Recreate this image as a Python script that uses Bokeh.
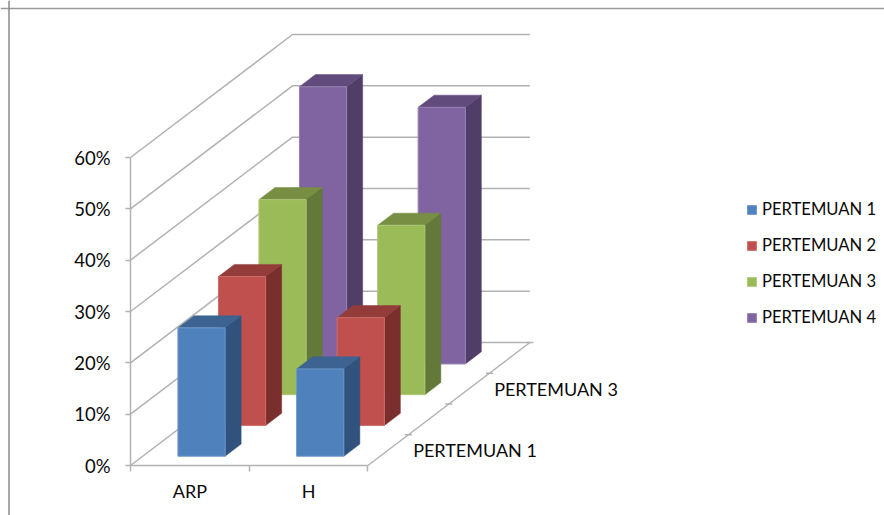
from bokeh.core.properties import value
from bokeh.embed import file_html
from bokeh.models import (FixedTicker, Legend, LegendItem, LinearAxis,
                          Range1d, Span)
from bokeh.plotting import figure
from bokeh.resources import INLINE

# Chart data
categories = ["ARP", "H"]
series_names = ["PERTEMUAN 1", "PERTEMUAN 2", "PERTEMUAN 3", "PERTEMUAN 4"]
pertemuan_1 = [25, 17]
pertemuan_2 = [29, 21]
pertemuan_3 = [38, 33]
pertemuan_4 = [54, 50]
series_values = [pertemuan_1, pertemuan_2, pertemuan_3, pertemuan_4]
percent_ticks = [0, 10, 20, 30, 40, 50, 60]
depth_labels = {0: "PERTEMUAN 1", 2: "PERTEMUAN 3"}

# Face colours per series: front, edge, top, side
front_colors = ["#4F81BD", "#C0504D", "#9BBB59", "#8064A2"]
edge_colors = ["#6C96C8", "#CB6E6B", "#AEC877", "#9680B2"]
top_colors = ["#3C6391", "#943C3A", "#778E43", "#614B7C"]
side_colors = ["#30527C", "#7A2E2D", "#62793A", "#513E68"]

WIDTH, HEIGHT = 884, 515
FONT = "Lato"
GRID = "#B2B2B2"
TEXT = "#0A0A0A"

# Plot scale: one category is 118.7 px wide and one percent is 5.133 px tall.
PX_X, PX_Y = 118.7, 5.133
X0_PX, Y0_PX = 130, 465
DEPTH_X, DEPTH_Y = 162 / PX_X, 123 / PX_Y   # oblique offset of the full floor depth

BAR_W = 47.2 / PX_X
BAR_GAP_X = 35.2 / PX_X
BAR_DEPTH = 0.395   # share of one depth slot taken by a bar
N_DEPTH = len(series_names)


def project(cat, depth, pct):
    """Oblique projection of (category, depth slot, percent) on the plot plane."""
    return cat + depth / N_DEPTH * DEPTH_X, pct + depth / N_DEPTH * DEPTH_Y


p = figure(
    width=WIDTH, height=HEIGHT, output_backend="svg", toolbar_location=None,
    x_range=Range1d(-X0_PX / PX_X, (WIDTH - X0_PX) / PX_X),
    y_range=Range1d((Y0_PX - HEIGHT) / PX_Y, Y0_PX / PX_Y),
    x_axis_type=None, y_axis_type=None, min_border=0,
)
p.outline_line_color = None
p.grid.visible = False
p.background_fill_color = "white"

# Outer chart border (top and left edges)
p.add_layout(Span(location=(Y0_PX - 8) / PX_Y, dimension="width", line_color="#9A9A9A", line_width=1.5))
p.add_layout(Span(location=(8.5 - X0_PX) / PX_X, dimension="height", line_color="#8A8A8A", line_width=1.5))

# Side wall and back wall gridlines
wall_xs, wall_ys = [], []
for t in percent_ticks:
    a = project(0, 0, t)
    b = project(0, N_DEPTH, t)
    c = project(len(categories), N_DEPTH, t)
    wall_xs.append([a[0], b[0], c[0]])
    wall_ys.append([a[1], b[1], c[1]])
p.multi_line(wall_xs, wall_ys, line_color=GRID, line_width=1.5)

# Floor right edge with its depth ticks
edge_a = project(len(categories), 0, 0)
edge_b = project(len(categories), N_DEPTH, 0)
p.line([edge_a[0], edge_b[0]], [edge_a[1], edge_b[1]], line_color=GRID, line_width=1.5)
tick_half = 3.5 / PX_X
tick_xs, tick_ys = [], []
for d in range(1, N_DEPTH + 1):
    tx, ty = project(len(categories), d, 0)
    tick_xs.append([tx - tick_half, tx + tick_half])
    tick_ys.append([ty, ty])
p.multi_line(tick_xs, tick_ys, line_color=GRID, line_width=1.5)

# Bars, painted from the back slot to the front one
bar_front = {}
for s in reversed(range(N_DEPTH)):
    fx, fy, tx, ty, sx, sy = [], [], [], [], [], []
    for c, v in enumerate(series_values[s]):
        d0 = s + (1 - BAR_DEPTH) / 2
        d1 = d0 + BAR_DEPTH
        x0 = c + BAR_GAP_X
        x1 = x0 + BAR_W
        a0, b0 = project(x0, d0, 0)
        a1, _ = project(x1, d0, 0)
        _, t0 = project(x0, d0, v)
        a2, b2 = project(x1, d1, 0)
        a3, _ = project(x0, d1, 0)
        _, t1 = project(x0, d1, v)
        fx.append([a0, a1, a1, a0]); fy.append([b0, b0, t0, t0])
        sx.append([a1, a2, a2, a1]); sy.append([b0, b2, t1, t0])
        tx.append([a0, a1, a2, a3]); ty.append([t0, t0, t1, t1])
    p.patches(sx, sy, fill_color=side_colors[s], line_color=side_colors[s], line_width=0.5)
    p.patches(tx, ty, fill_color=top_colors[s], line_color=top_colors[s], line_width=0.5)
    bar_front[s] = p.patches(fx, fy, fill_color=front_colors[s], line_color=edge_colors[s], line_width=1)

# Value axis on the front left edge
y_axis = LinearAxis(
    fixed_location=0, ticker=FixedTicker(ticks=percent_ticks),
    bounds=(percent_ticks[0], percent_ticks[-1]),
    major_label_overrides={t: f"{t}%" for t in percent_ticks},
    axis_line_color=GRID, axis_line_width=1.5,
    major_tick_line_color=GRID, major_tick_line_width=1.5,
    major_tick_in=0, major_tick_out=5, minor_tick_line_color=None,
    major_label_standoff=15, major_label_text_font=FONT,
    major_label_text_font_size="18.5px", major_label_text_color=TEXT,
)
p.add_layout(y_axis, "left")

# Category axis along the front floor edge: tick marks at slot edges
x_ticks = LinearAxis(
    fixed_location=0, ticker=FixedTicker(ticks=list(range(len(categories) + 1))),
    bounds=(0, len(categories)),
    axis_line_color=GRID, axis_line_width=1.5,
    major_tick_line_color=GRID, major_tick_line_width=1.5,
    major_tick_in=0, major_tick_out=6, minor_tick_line_color=None,
    major_label_text_color=None, major_label_text_font_size="1px",
)
p.add_layout(x_ticks, "below")

# Category names centred under each slot
x_names = LinearAxis(
    fixed_location=0, ticker=FixedTicker(ticks=[c + 0.5 for c in range(len(categories))]),
    major_label_overrides={c + 0.5: n for c, n in enumerate(categories)},
    axis_line_color=None, major_tick_line_color=None, minor_tick_line_color=None,
    major_label_standoff=8, major_label_text_font=FONT,
    major_label_text_font_size="18px", major_label_text_color=TEXT,
)
p.add_layout(x_names, "below")

# Depth axis names beside the floor edge
label_x, label_y, label_text = [], [], []
for d, name in depth_labels.items():
    lx, ly = project(len(categories), d + 0.5, 0)
    label_x.append(lx + 25 / PX_X)
    label_y.append(ly)
    label_text.append(name)
p.text(
    label_x, label_y, text=label_text, text_font=value(FONT), text_font_size="18px",
    text_align="left", text_baseline="middle", text_color=TEXT,
)

legend = Legend(
    items=[LegendItem(label=n, renderers=[bar_front[i]]) for i, n in enumerate(series_names)],
    location=(746, 188), orientation="vertical",
    border_line_color=None, background_fill_alpha=0,
    glyph_width=11, glyph_height=11, spacing=16, padding=10, margin=0,
    label_text_font=FONT, label_text_font_size="16.6px", label_text_color=TEXT,
    label_standoff=5,
)
p.add_layout(legend, "center")

open("out.html", "w").write(file_html(p, INLINE))
